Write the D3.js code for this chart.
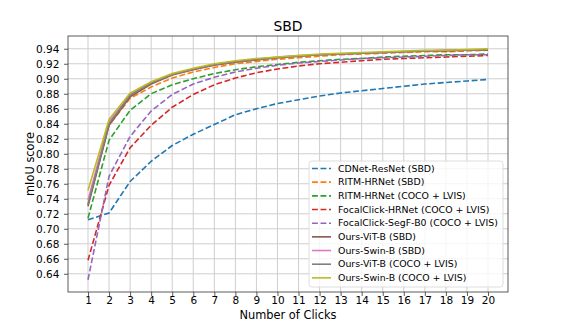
<!DOCTYPE html>
<html>
<head>
<meta charset="utf-8">
<script src="https://cdn.jsdelivr.net/npm/d3@7/dist/d3.min.js"></script>
<style>
  body { margin: 0; background: #fff; }
  svg { font-family: "DejaVu Sans", sans-serif; }
</style>
</head>
<body>
<div id="chart"></div>
<script>
// size of the figure
var width = 562;
var height = 328;
var margin = {top: 36, right: 54, bottom: 36, left: 68};

// data
var clicks = d3.range(1, 21);
var seriesNames = [
  "CDNet-ResNet (SBD)",
  "RITM-HRNet (SBD)",
  "RITM-HRNet (COCO + LVIS)",
  "FocalClick-HRNet (COCO + LVIS)",
  "FocalClick-SegF-B0 (COCO + LVIS)",
  "Ours-ViT-B (SBD)",
  "Ours-Swin-B (SBD)",
  "Ours-ViT-B (COCO + LVIS)",
  "Ours-Swin-B (COCO + LVIS)"
];
var cdnet     = [0.712, 0.721, 0.763, 0.790, 0.811, 0.826, 0.839, 0.852, 0.860, 0.867, 0.872, 0.877, 0.881, 0.884, 0.887, 0.890, 0.893, 0.895, 0.897, 0.899];
var ritmSbd   = [0.733, 0.838, 0.874, 0.889, 0.901, 0.909, 0.915, 0.920, 0.923, 0.926, 0.928, 0.930, 0.932, 0.933, 0.934, 0.935, 0.936, 0.936, 0.937, 0.938];
var ritmCoco  = [0.714, 0.818, 0.858, 0.880, 0.892, 0.900, 0.907, 0.912, 0.916, 0.919, 0.922, 0.924, 0.926, 0.927, 0.929, 0.930, 0.931, 0.932, 0.932, 0.933];
var focalHr   = [0.658, 0.758, 0.808, 0.838, 0.862, 0.879, 0.892, 0.901, 0.908, 0.913, 0.917, 0.920, 0.922, 0.924, 0.926, 0.927, 0.928, 0.929, 0.930, 0.931];
var focalSegf = [0.632, 0.770, 0.823, 0.857, 0.879, 0.893, 0.902, 0.909, 0.914, 0.918, 0.921, 0.923, 0.925, 0.927, 0.928, 0.929, 0.930, 0.931, 0.932, 0.932];
var vitSbd    = [0.730, 0.838, 0.876, 0.893, 0.905, 0.912, 0.918, 0.922, 0.925, 0.928, 0.930, 0.932, 0.933, 0.934, 0.935, 0.936, 0.937, 0.937, 0.938, 0.938];
var swinSbd   = [0.738, 0.843, 0.879, 0.895, 0.906, 0.913, 0.919, 0.923, 0.926, 0.929, 0.931, 0.932, 0.933, 0.934, 0.935, 0.936, 0.937, 0.938, 0.938, 0.939];
var vitCoco   = [0.732, 0.840, 0.878, 0.894, 0.906, 0.913, 0.919, 0.923, 0.926, 0.928, 0.930, 0.932, 0.933, 0.934, 0.935, 0.936, 0.937, 0.938, 0.938, 0.939];
var swinCoco  = [0.751, 0.846, 0.881, 0.896, 0.907, 0.914, 0.920, 0.924, 0.927, 0.929, 0.931, 0.933, 0.934, 0.935, 0.936, 0.937, 0.938, 0.938, 0.939, 0.940];
var seriesValues = [cdnet, ritmSbd, ritmCoco, focalHr, focalSegf, vitSbd, swinSbd, vitCoco, swinCoco];
var yTicks = [0.64, 0.66, 0.68, 0.70, 0.72, 0.74, 0.76, 0.78, 0.80, 0.82, 0.84, 0.86, 0.88, 0.90, 0.92, 0.94];

var colors = ["#1f77b4", "#ff7f0e", "#2ca02c", "#d62728", "#9467bd", "#8c564b", "#e377c2", "#7f7f7f", "#bcbd22"];
var dashed = [true, true, true, true, true, false, false, false, false];

var svg = d3.select("#chart")
  .append("svg")
  .attr("width", width)
  .attr("height", height);

var x = d3.scaleLinear().domain([0.05, 20.95]).range([margin.left, width - margin.right]);
var y = d3.scaleLinear().domain([0.6157, 0.957]).range([height - margin.bottom, margin.top]);

// grid
svg.append("g").selectAll("line")
  .data(clicks).enter().append("line")
  .attr("x1", function(d) { return x(d); }).attr("x2", function(d) { return x(d); })
  .attr("y1", margin.top).attr("y2", height - margin.bottom)
  .attr("stroke", "#cfcfcf").attr("stroke-width", 1);
svg.append("g").selectAll("line")
  .data(yTicks).enter().append("line")
  .attr("y1", function(d) { return y(d); }).attr("y2", function(d) { return y(d); })
  .attr("x1", margin.left).attr("x2", width - margin.right)
  .attr("stroke", "#cfcfcf").attr("stroke-width", 1);

// axes
var xAxis = svg.append("g")
  .attr("transform", "translate(0," + (height - margin.bottom) + ")")
  .call(d3.axisBottom(x).tickValues(clicks).tickFormat(d3.format("d")).tickSize(4).tickSizeOuter(0));
var yAxis = svg.append("g")
  .attr("transform", "translate(" + margin.left + ",0)")
  .call(d3.axisLeft(y).tickValues(yTicks).tickFormat(d3.format(".2f")).tickSize(4).tickSizeOuter(0));
[xAxis, yAxis].forEach(function(a) {
  a.select(".domain").remove();
  a.selectAll("text").attr("font-family", "DejaVu Sans").attr("font-size", 10.5).attr("fill", "#000");
  a.selectAll("line").attr("stroke", "#333").attr("stroke-width", 0.8);
});
xAxis.selectAll("text").attr("y", 5).attr("dy", "0.71em");
yAxis.selectAll("text").attr("dx", "-0.15em");

// frame
svg.append("rect")
  .attr("x", margin.left).attr("y", margin.top)
  .attr("width", width - margin.left - margin.right)
  .attr("height", height - margin.top - margin.bottom)
  .attr("fill", "none").attr("stroke", "#333").attr("stroke-width", 0.8);

// lines
var line = d3.line()
  .x(function(d, i) { return x(clicks[i]); })
  .y(function(d) { return y(d); });

svg.append("g").selectAll("path")
  .data(seriesValues).enter().append("path")
  .attr("d", line)
  .attr("fill", "none")
  .attr("stroke", function(d, i) { return colors[i]; })
  .attr("stroke-width", 1.6)
  .attr("stroke-dasharray", function(d, i) { return dashed[i] ? "5.9,2.6" : null; });

// title and labels
svg.append("text")
  .attr("x", (margin.left + width - margin.right) / 2).attr("y", 31)
  .attr("text-anchor", "middle").attr("font-size", 13.9)
  .text("SBD");
svg.append("text")
  .attr("x", (margin.left + width - margin.right) / 2).attr("y", 319)
  .attr("text-anchor", "middle").attr("font-size", 11.4)
  .text("Number of Clicks");
svg.append("text")
  .attr("transform", "translate(34," + ((margin.top + height - margin.bottom) / 2) + ") rotate(-90)")
  .attr("text-anchor", "middle").attr("font-size", 11.4)
  .text("mIoU score");

// legend
var legend = svg.append("g").attr("transform", "translate(309,161)");
legend.append("rect")
  .attr("width", 194).attr("height", 126)
  .attr("rx", 3)
  .attr("fill", "#fff").attr("fill-opacity", 0.8)
  .attr("stroke", "#d6d6d6").attr("stroke-width", 0.8);
var rows = legend.selectAll("g.row")
  .data(seriesNames).enter().append("g")
  .attr("class", "row")
  .attr("transform", function(d, i) { return "translate(0," + (7.5 + i * 13.67) + ")"; });
rows.append("line")
  .attr("x1", 3).attr("x2", 22)
  .attr("stroke", function(d, i) { return colors[i]; })
  .attr("stroke-width", 1.6)
  .attr("stroke-dasharray", function(d, i) { return dashed[i] ? "5.9,2.6" : null; });
rows.append("text")
  .attr("x", 29).attr("dy", "0.35em")
  .attr("font-size", 9.4)
  .text(function(d) { return d; });
</script>
</body>
</html>
